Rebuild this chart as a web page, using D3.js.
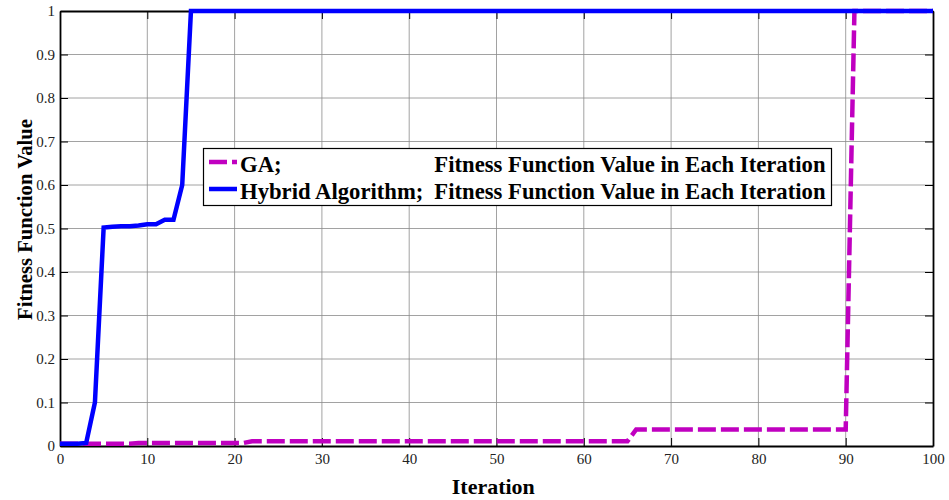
<!DOCTYPE html>
<html><head><meta charset="utf-8">
<script src="https://cdn.jsdelivr.net/npm/d3@7"></script>
<style>
body{margin:0;background:#fff;}
</style></head>
<body>
<svg id="chart" width="949" height="500"></svg>
<script>
// Data
const iterations = d3.range(0, 101);
const hybridHead = [0.005,0.005,0.005,0.007,0.1,0.502,0.504,0.505,0.505,0.507,0.51,0.51,0.52,0.52,0.6];
const hybridValues = iterations.map(i => i < hybridHead.length ? hybridHead[i] : 1);
const gaValues = iterations.map(i => i <= 8 ? 0.005 : i <= 21 ? 0.007 : i <= 65 ? 0.011 : i <= 90 ? 0.038 : 1);
const xTicks = [0,10,20,30,40,50,60,70,80,90,100];
const yTicks = [0,0.1,0.2,0.3,0.4,0.5,0.6,0.7,0.8,0.9,1];
const seriesNames = ["GA;", "Hybrid Algorithm;"];
const seriesNote = "Fitness Function Value in Each Iteration";
const xLabel = "Iteration";
const yLabel = "Fitness Function Value";

const FONT = '"Liberation Serif", "Times New Roman", serif';
const svg = d3.select("#chart");
const L = 60, R = 933, T = 11, B = 446;
const x = d3.scaleLinear().domain([0,100]).range([L,R]);
const y = d3.scaleLinear().domain([0,1]).range([B,T]);

// fit a text element to a target length by adjusting font size
function fit(sel, target){
  const fs = parseFloat(sel.attr("font-size"));
  const w = sel.node().getComputedTextLength();
  if (w > 0) sel.attr("font-size", (fs*target/w).toFixed(2));
  return sel;
}

// grid
const g = svg.append("g");
g.selectAll(".gx").data(xTicks.slice(1,-1)).join("line")
  .attr("x1", d=>x(d)).attr("x2", d=>x(d)).attr("y1", T).attr("y2", B)
  .attr("stroke","#8a8a8a").attr("stroke-width",0.8);
g.selectAll(".gy").data(yTicks.slice(1,-1)).join("line")
  .attr("y1", d=>y(d)).attr("y2", d=>y(d)).attr("x1", L).attr("x2", R)
  .attr("stroke","#8a8a8a").attr("stroke-width",0.8);

// axes
const tickFmt = d => d3.format("~g")(d);
const axB = svg.append("g").attr("transform",`translate(0,${B})`)
  .call(d3.axisBottom(x).tickValues(xTicks).tickSizeInner(-8).tickSizeOuter(0).tickPadding(7).tickFormat(tickFmt));
const axL = svg.append("g").attr("transform",`translate(${L},0)`)
  .call(d3.axisLeft(y).tickValues(yTicks).tickSizeInner(-8).tickSizeOuter(0).tickPadding(5).tickFormat(tickFmt));
const axT = svg.append("g").attr("transform",`translate(0,${T})`)
  .call(d3.axisTop(x).tickValues(xTicks).tickSizeInner(-8).tickSizeOuter(0).tickFormat(""));
const axR = svg.append("g").attr("transform",`translate(${R},0)`)
  .call(d3.axisRight(y).tickValues(yTicks).tickSizeInner(-8).tickSizeOuter(0).tickFormat(""));
[axB,axL,axT,axR].forEach(a=>{
  a.attr("font-family", FONT).attr("font-size", 15);
  a.select(".domain").attr("stroke","#000").attr("stroke-width",1.8);
  a.selectAll(".tick line").attr("stroke","#000").attr("stroke-width",1);
  a.selectAll("text").attr("fill","#222");
});

// lines
const line = d3.line().x((d,i)=>x(iterations[i])).y(d=>y(d));
svg.append("path").datum(gaValues).attr("d",line).attr("fill","none")
  .attr("stroke","#c000c0").attr("stroke-width",4.5).attr("stroke-dasharray","18,5");
svg.append("path").datum(hybridValues).attr("d",line).attr("fill","none")
  .attr("stroke","#0000ff").attr("stroke-width",4.5);

// legend
const lg = svg.append("g").attr("font-family", FONT);
lg.append("rect").attr("x",203.5).attr("y",148.5).attr("width",628).attr("height",57)
  .attr("fill","#fff").attr("stroke","#000").attr("stroke-width",1.2);
const rows = [{c:"#c000c0",dash:"18,5",yy:162},{c:"#0000ff",dash:null,yy:189}];
rows.forEach((r,i)=>{
  lg.append("line").attr("x1",209).attr("x2",237).attr("y1",r.yy).attr("y2",r.yy)
    .attr("stroke",r.c).attr("stroke-width",4.5).attr("stroke-dasharray",r.dash);
  lg.append("text").attr("x",240).attr("y",r.yy+9.5).attr("font-size",22.7).attr("font-weight","bold")
    .attr("fill","#000").text(seriesNames[i]);
  const t = lg.append("text").attr("x",825.5).attr("y",r.yy+9.5).attr("font-size",22.7).attr("font-weight","bold")
    .attr("text-anchor","end").attr("fill","#000").text(seriesNote);
  fit(t, 391);
});

// axis labels
const xl = svg.append("text").attr("x",493.3).attr("y",494).attr("text-anchor","middle")
  .attr("font-family", FONT).attr("font-size",22).attr("font-weight","bold").attr("fill","#000").text(xLabel);
fit(xl, 83);
const yl = svg.append("text").attr("transform",`translate(31.5,219.5) rotate(-90)`).attr("text-anchor","middle")
  .attr("font-family", FONT).attr("font-size",22).attr("font-weight","bold").attr("fill","#000").text(yLabel);
fit(yl, 201);
</script>
</body></html>
